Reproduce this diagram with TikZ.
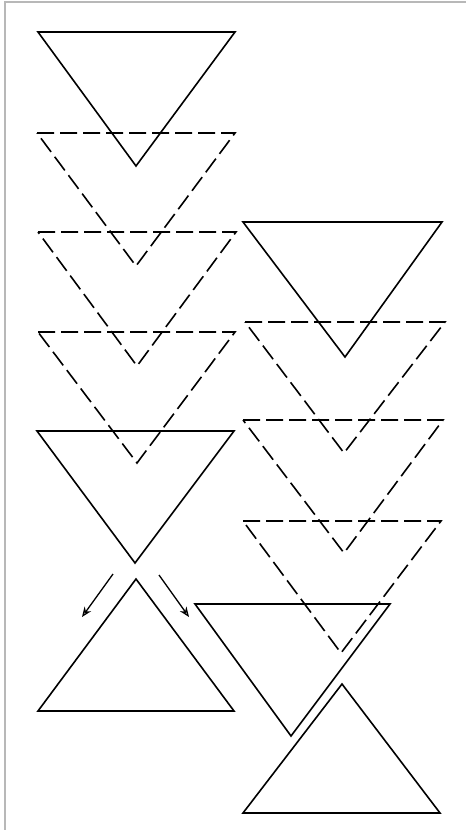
\documentclass[tikz,border=0pt]{standalone}
\usetikzlibrary{arrows.meta}
\begin{document}
\begin{tikzpicture}[x=1pt,y=-1pt,
  tri/.style={line width=1.6pt, line join=miter, black},
  dtri/.style={tri, dash pattern=on 17pt off 6pt},
  frame/.style={line width=2pt, draw=black!28},
  arr/.style={line width=1.3pt, -{Stealth[open,length=10pt,width=8pt]}}]
\useasboundingbox (0,0) rectangle (466,830);
\draw[frame] (5,830) -- (5,2) -- (466,2);
% left column (pointing down)
\draw[tri]  (38,32)  -- (235,32)  -- (136,166) -- cycle;
\draw[dtri] (37,133) -- (235,133) -- (136,266) -- cycle;
\draw[dtri] (38,232) -- (236,232) -- (137,366) -- cycle;
\draw[dtri] (38,332) -- (235,332) -- (137,463) -- cycle;
\draw[tri]  (37,431) -- (234,431) -- (135,563) -- cycle;
% right column (pointing down)
\draw[tri]  (243,222) -- (442,222) -- (345,357) -- cycle;
\draw[dtri] (245,322) -- (445,322) -- (344,453) -- cycle;
\draw[dtri] (243,420) -- (443,420) -- (344,553) -- cycle;
\draw[dtri] (243,521) -- (441,521) -- (341,653) -- cycle;
\draw[tri]  (195,604) -- (390,604) -- (291,736) -- cycle;
% upward triangles
\draw[tri]  (38,711) -- (234,711) -- (136,579) -- cycle;
\draw[tri]  (243,813) -- (440,813) -- (342,684) -- cycle;
% arrows
\coordinate (a1s) at (113,574);
\coordinate (a1e) at (82,617);
\coordinate (a2s) at (159,575);
\coordinate (a2e) at (189,617);
\draw[arr] (a1s) -- (a1e);
\draw[arr] (a2s) -- (a2e);
\end{tikzpicture}
\end{document}
